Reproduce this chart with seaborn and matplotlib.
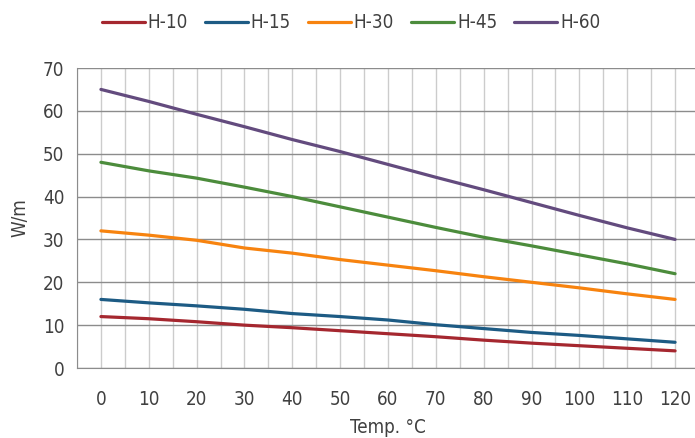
import matplotlib
matplotlib.use('Agg')
import matplotlib.pyplot as plt
import numpy as np
import pandas as pd
import seaborn as sns

temps = [0, 10, 20, 30, 40, 50, 60, 70, 80, 90, 100, 110, 120]
h10 = [12, 11.5, 10.8, 10, 9.4, 8.7, 8, 7.3, 6.5, 5.8, 5.2, 4.6, 4]
h15 = [16, 15.2, 14.5, 13.7, 12.7, 12, 11.2, 10.1, 9.2, 8.3, 7.6, 6.8, 6]
h30 = [32, 31, 29.8, 28, 26.8, 25.3, 24, 22.7, 21.3, 20, 18.7, 17.3, 16]
h45 = [48, 46, 44.3, 42.2, 40, 37.6, 35.2, 32.8, 30.5, 28.5, 26.4, 24.3, 22]
h60 = [65, 62.2, 59.2, 56.3, 53.3, 50.5, 47.5, 44.5, 41.6, 38.6, 35.6, 32.7, 30]
series = ['H-10', 'H-15', 'H-30', 'H-45', 'H-60']
colors = ['#A5272F', '#1D5B84', '#F7830F', '#4C8C3C', '#634B7E']

df = pd.DataFrame({'Temp': temps * 5,
                   'W/m': h10 + h15 + h30 + h45 + h60,
                   'series': np.repeat(series, len(temps))})

sns.set_style('white')
plt.rcParams['font.family'] = ['DejaVu Sans']
plt.rcParams['font.stretch'] = 'condensed'

fig = plt.figure(figsize=(6.95, 4.38), dpi=100)
ax = fig.add_axes([77 / 695, 70 / 438, 622 / 695, 300 / 438])

sns.lineplot(data=df, x='Temp', y='W/m', hue='series', palette=colors,
             linewidth=2.3, ax=ax)

ax.set_xlim(-5, 125)
ax.set_ylim(0, 70)
ax.set_yticks(range(0, 71, 10))
ax.set_xticks(temps)
ax.set_xticks(np.arange(-5, 126, 10), minor=True)
ax.tick_params(axis='x', which='major', length=0, pad=16, labelsize=13.5, colors='#404040')
ax.tick_params(axis='x', which='minor', length=5, color='#888888', width=1)
ax.tick_params(axis='y', length=5, color='#888888', labelsize=13.5, colors='#404040', pad=4)
ax.grid(axis='y', color='#8c8c8c', linewidth=1)
ax.grid(axis='x', which='both', color='#cccccc', linewidth=1)
ax.set_axisbelow(True)
for s in ['top', 'right']:
    ax.spines[s].set_visible(False)
for s in ['left', 'bottom']:
    ax.spines[s].set_color('#8c8c8c')

ax.set_xlabel('Temp. °C', fontsize=13.5, color='#404040', labelpad=6)
ax.set_ylabel('W/m', fontsize=13.5, color='#404040', labelpad=10)

ax.legend(loc='center', bbox_to_anchor=(351 / 695, 1 - 23 / 438),
          bbox_transform=fig.transFigure, ncol=5, frameon=False,
          fontsize=13.5, handlelength=2.3, columnspacing=0.9, handletextpad=0.15)
for t in ax.get_legend().get_texts():
    t.set_color('#404040')

fig.savefig('out.png', dpi=100)
